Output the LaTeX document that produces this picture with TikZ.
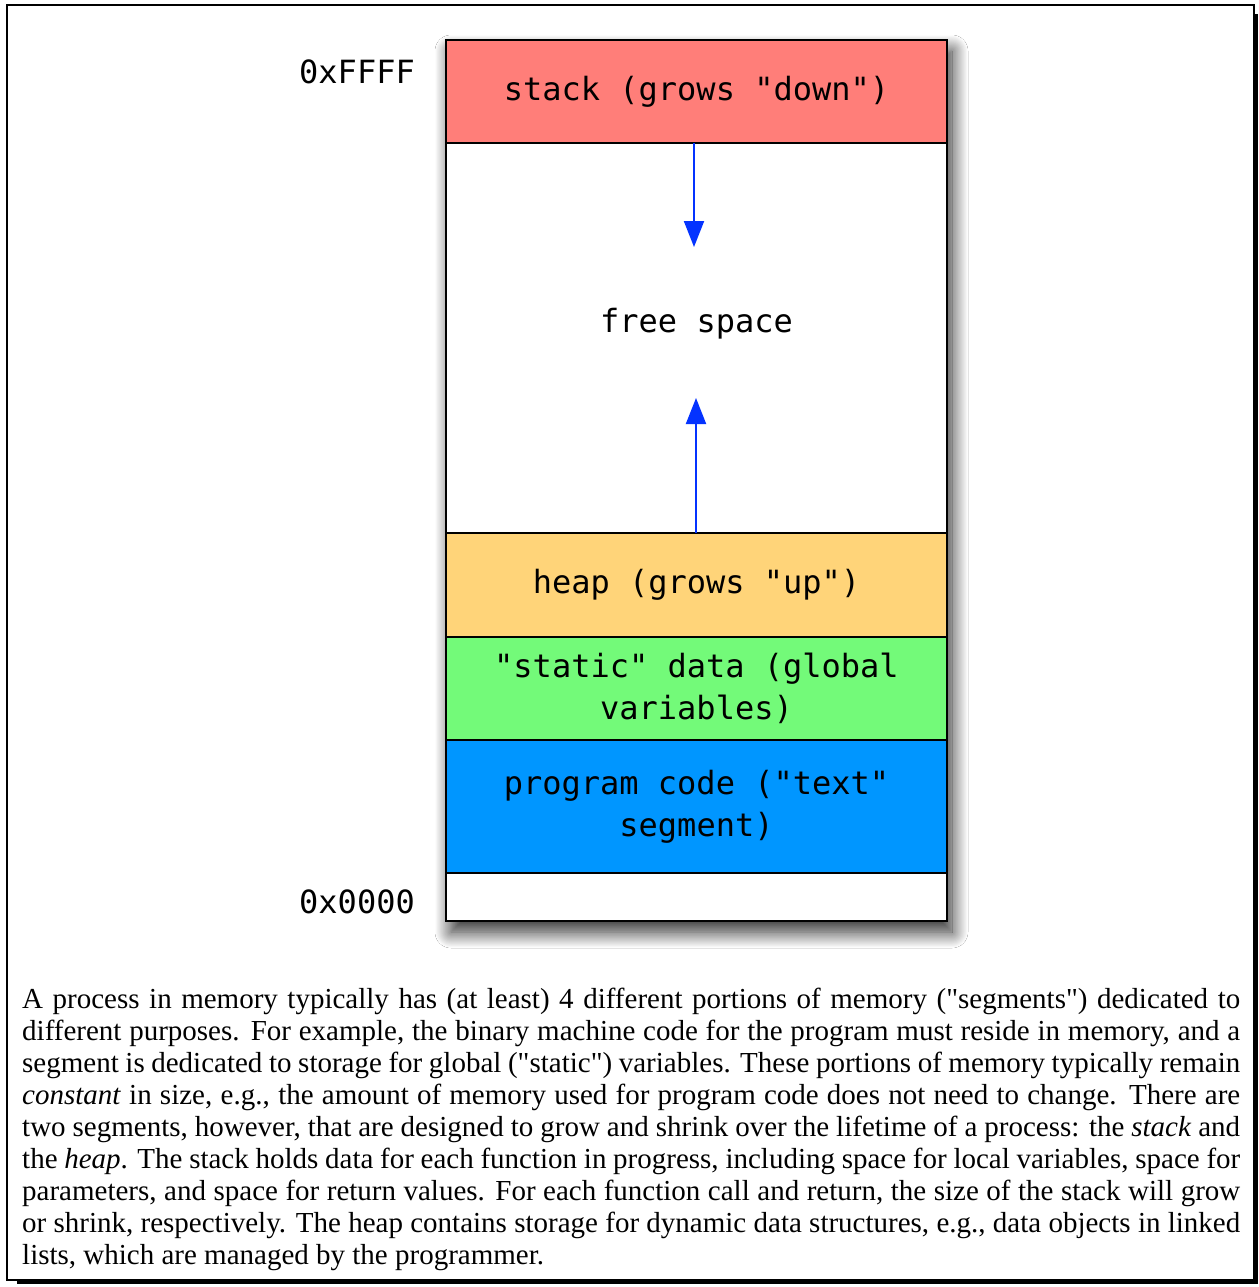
\documentclass[tikz,border=0pt]{standalone}
\usepackage{fontspec}
\setmainfont{Liberation Serif}[Ligatures=TeXOff]
\newfontfamily\monofont{DejaVu Sans Mono}
\usetikzlibrary{arrows.meta,shadows.blur}
\definecolor{salmon}{HTML}{FF7E79}
\definecolor{cantaloupe}{HTML}{FFD479}
\definecolor{flora}{HTML}{73FA79}
\definecolor{aqua}{HTML}{0096FF}
\definecolor{blueberry}{HTML}{0433FF}
\begin{document}
\begin{tikzpicture}[x=1pt,y=-1pt,
  seg/.style={draw=black, line width=2.5pt, minimum width=501pt, inner sep=0pt, outer sep=0pt,
    font=\monofont\fontsize{32}{42}\selectfont, align=center, text=black},
  addr/.style={font=\monofont\fontsize{32}{38}\selectfont, anchor=east, inner sep=0pt},
  growarrow/.style={draw=blueberry, line width=2pt, -{Triangle[width=20pt,length=26pt,fill=blueberry]}},
  framebox/.style={draw=black, line width=1.3pt},
]
\useasboundingbox (0,0) rectangle (1258,1287);
% outer shadowed frame
\fill[black] (1254.5,14) rectangle (1258,1284);
\fill[black] (17,1280.5) rectangle (1258,1284);
\node[framebox, fill=white, minimum width=1247pt, minimum height=1275pt, inner sep=0pt] (frame) at (630.5,642.5) {};
% memory column with shadow
\node[fill=white, minimum width=501pt, minimum height=881pt, inner sep=0pt,
  blur shadow={shadow xshift=5pt, shadow yshift=-11pt, shadow blur radius=16pt, shadow blur steps=24, shadow opacity=85}] (column) at (696.5,480.5) {};
\node[seg, fill=salmon, minimum height=103pt] (stack) at (696.5,91.5) {stack (grows "down")};
\node[seg, fill=white, minimum height=390pt,
  label={[font=\monofont\fontsize{32}{42}\selectfont, yshift=14pt]center:free space}] (free) at (696.5,338) {};
\node[seg, fill=cantaloupe, minimum height=104pt] (heap) at (696.5,585) {heap (grows "up")};
\node[seg, fill=flora, minimum height=103pt] (static) at (696.5,688.5) {"static" data (global\\variables)};
\node[seg, fill=aqua, minimum height=133pt] (code) at (696.5,806.5) {program code ("text"\\segment)};
\node[seg, fill=white, minimum height=48pt] (low) at (696.5,897) {};
% addresses
\node[addr] (hi) at (415,72) {0xFFFF};
\node[addr] (lo) at (415,902) {0x0000};
% growth arrows
\coordinate (downtip) at (694,247);
\coordinate (uptip) at (696,398);
\draw[growarrow] (stack.south -| downtip) -- (downtip);
\draw[growarrow] (heap.north -| uptip) -- (uptip);
% caption
\node[anchor=north west, text width=1218pt, align=justify, inner sep=0pt,
  font=\fontsize{29}{32}\selectfont] (caption) at (22,988) {\noindent
A process in memory typically has (at least) 4 different portions of memory ("segments") dedicated to\linebreak
different purposes. For example, the binary machine code for the program must reside in memory, and a\linebreak
segment is dedicated to storage for global ("static") variables. These portions of memory typically remain\linebreak
\textit{constant} in size, e.g., the amount of memory used for program code does not need to change. There are\linebreak
two segments, however, that are designed to grow and shrink over the lifetime of a process: the \textit{stack} and\linebreak
the \textit{heap}. The stack holds data for each function in progress, including space for local variables, space for\linebreak
parameters, and space for return values. For each function call and return, the size of the stack will grow\linebreak
or shrink, respectively. The heap contains storage for dynamic data structures, e.g., data objects in linked\linebreak
lists, which are managed by the programmer.};
\end{tikzpicture}
\end{document}
